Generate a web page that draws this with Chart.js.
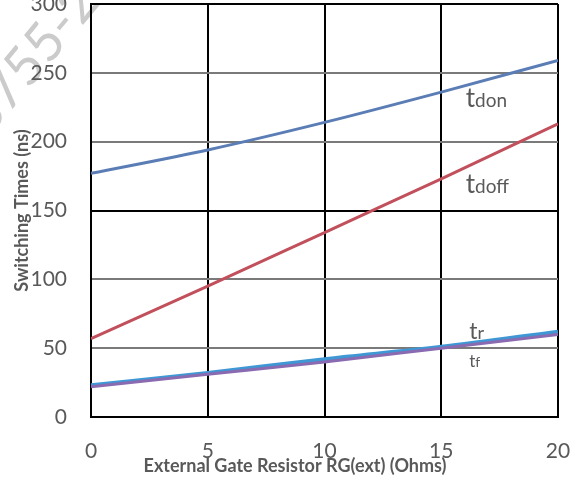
<!DOCTYPE html>
<html>
<head>
<meta charset="utf-8">
<script src="https://cdn.jsdelivr.net/npm/chart.js@4.4.1/dist/chart.umd.min.js"></script>
<style>
  html, body { margin: 0; padding: 0; background: #fff; }
  canvas { display: block; }
</style>
</head>
<body>
<canvas id="chart" width="576" height="479"></canvas>
<script>
// x values (Ohms)
const resistance = [0, 5, 10, 15, 20];
// switching times in ns
const tdon = [177, 194, 214, 236, 259];
const tdoff = [57, 95, 134, 173, 213];
const tr = [23, 32, 42, 51, 62];
const tf = [22, 31, 40, 50, 60];

// curve labels: [main letter, subscript, x, y, main size, sub size]
const curveLabels = [
    ['t', 'don', 16.05, 225, 26, 19],
    ['t', 'doff', 16.05, 163, 26, 19],
    ['t', 'r', 16.2, 57, 23, 18],
    ['t', 'f', 16.2, 36, 17, 14]
];

const FONT = 'Lato, "Open Sans", sans-serif';
const TEXT = '#595959';

function toPoints(ys) {
    return ys.map((y, i) => ({ x: resistance[i], y: y }));
}

const labelPlugin = {
    id: 'curveLabels',
    afterDatasetsDraw(chart) {
        const ctx = chart.ctx;
        const xs = chart.scales.x, ys = chart.scales.y;
        ctx.save();
        ctx.fillStyle = TEXT;
        ctx.textBaseline = 'alphabetic';
        ctx.textAlign = 'left';
        curveLabels.forEach(l => {
            const px = xs.getPixelForValue(l[2]);
            const py = ys.getPixelForValue(l[3]);
            ctx.font = `${l[4]}px ${FONT}`;
            ctx.fillText(l[0], px, py);
            const w = ctx.measureText(l[0]).width;
            ctx.font = `${l[5]}px ${FONT}`;
            ctx.fillText(l[1], px + w, py);
        });
        // x axis title, centred a little left of the plot like the original
        ctx.font = `bold 18px ${FONT}`;
        ctx.textAlign = 'center';
        ctx.textBaseline = 'middle';
        ctx.fillText('External Gate Resistor RG(ext) (Ohms)', 295, 466);
        ctx.restore();
    }
};

const watermarkPlugin = {
    id: 'watermark',
    beforeDraw(chart) {
        const ctx = chart.ctx;
        ctx.save();
        ctx.translate(-12, 138);
        ctx.rotate(-50 * Math.PI / 180);
        ctx.fillStyle = '#cbcbcb';
        ctx.font = `54px ${FONT}`;
        ctx.textBaseline = 'alphabetic';
        ctx.fillText('3755-2', 0, 0);
        ctx.restore();
    }
};

function hGridColor(ctx) {
    const v = ctx.tick ? ctx.tick.value : null;
    if (v === 0 || v === 150 || v === 300) return '#000';
    return '#7a7a7a';
}

new Chart(document.getElementById('chart'), {
    type: 'line',
    data: {
        datasets: [
            { label: 'tdon', data: toPoints(tdon), borderColor: '#5b7db6', borderWidth: 3 },
            { label: 'tdoff', data: toPoints(tdoff), borderColor: '#c2505c', borderWidth: 3 },
            { label: 'tf', data: toPoints(tf), borderColor: '#8a6ab0', borderWidth: 3 },
            { label: 'tr', data: toPoints(tr), borderColor: '#3f97d4', borderWidth: 4 }
        ]
    },
    options: {
        responsive: false,
        animation: false,
        devicePixelRatio: 1,
        elements: { point: { radius: 0 }, line: { cubicInterpolationMode: 'monotone' } },
        layout: { padding: { top: 4, right: 18, left: 0, bottom: 0 } },
        plugins: { legend: { display: false }, tooltip: { enabled: false } },
        scales: {
            x: {
                type: 'linear',
                min: 0, max: 20,
                ticks: { stepSize: 5, color: TEXT, font: { family: FONT, size: 21 }, padding: 22, maxRotation: 0 },
                grid: { color: '#000', lineWidth: 2, drawTicks: false },
                border: { color: '#000', width: 2 },
                afterFit(scale) {
                    scale.height = 62;
                    scale.paddingLeft = 0;
                    scale.paddingRight = 0;
                }
            },
            y: {
                min: 0, max: 300,
                ticks: { stepSize: 50, color: TEXT, font: { family: FONT, size: 21 }, padding: 24 },
                grid: { color: hGridColor, lineWidth: 2, drawTicks: false },
                border: { color: '#000', width: 2 },
                title: {
                    display: true, text: 'Switching Times (ns)',
                    color: TEXT, font: { family: FONT, size: 18, weight: 'bold' },
                    padding: { top: 11, bottom: 0 }
                },
                afterFit(scale) {
                    scale.width = 91;
                    scale.paddingTop = 0;
                    scale.paddingBottom = 0;
                }
            }
        }
    },
    plugins: [watermarkPlugin, labelPlugin]
});
</script>
</body>
</html>
